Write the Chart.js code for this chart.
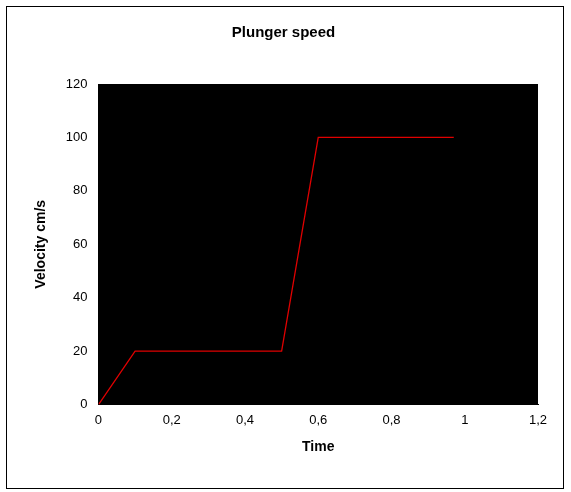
<!DOCTYPE html>
<html>
<head>
<meta charset="utf-8">
<script src="https://cdn.jsdelivr.net/npm/chart.js@4/dist/chart.umd.min.js"></script>
<style>
  html, body { margin: 0; padding: 0; background: #fff; }
  #wrap { width: 571px; height: 492px; }
</style>
</head>
<body>
<div id="wrap"><canvas id="plunger"></canvas></div>
<script>
// data
const timeValues = [0, 0.1, 0.5, 0.6, 0.97];
const speedValues = [0, 20, 20, 100, 100];
const xTicks = [0, 0.2, 0.4, 0.6, 0.8, 1, 1.2];
const yTicks = [0, 20, 40, 60, 80, 100, 120];

const points = timeValues.map((t, i) => ({ x: t, y: speedValues[i] }));

// black plot area + thin frame round the whole chart
const frame = {
  id: "frame",
  beforeDraw(chart) {
    const c = chart.ctx, a = chart.chartArea;
    c.save();
    c.fillStyle = "#000";
    c.fillRect(a.left, a.top, a.right - a.left, a.bottom - a.top);
    c.strokeStyle = "#000";
    c.lineWidth = 1;
    c.strokeRect(6.5, 6.5, 557, 482);
    c.restore();
  }
};

Chart.defaults.font.family = "'Liberation Sans', Arial, sans-serif";
Chart.defaults.color = "#000";

new Chart(document.getElementById("plunger"), {
  type: "scatter",
  data: {
    datasets: [{
      data: points,
      showLine: true,
      borderColor: "#e00000",
      borderWidth: 1.3,
      pointRadius: 0,
      tension: 0
    }]
  },
  options: {
    responsive: true,
    maintainAspectRatio: false,
    animation: false,
    layout: { padding: { left: 29, right: 33, top: 14, bottom: 32 } },
    plugins: {
      legend: { display: false },
      tooltip: { enabled: false },
      title: {
        display: true,
        text: "Plunger speed",
        font: { size: 15, weight: "bold" },
        padding: { top: 10, bottom: 42 }
      }
    },
    scales: {
      x: {
        type: "linear",
        min: 0, max: 1.2,
        afterBuildTicks: axis => { axis.ticks = xTicks.map(v => ({ value: v })); },
        ticks: {
          font: { size: 13 },
          callback: v => String(Math.round(v * 10) / 10).replace(".", ",")
        },
        grid: { display: false, drawTicks: true, tickLength: 5 },
        border: { color: "#000" },
        title: { display: true, text: "Time", font: { size: 14, weight: "bold" }, padding: { top: 8 } }
      },
      y: {
        min: 0, max: 120,
        afterBuildTicks: axis => { axis.ticks = yTicks.map(v => ({ value: v })); },
        ticks: { font: { size: 13 }, padding: 6 },
        grid: { display: false, tickLength: 5 },
        border: { color: "#000" },
        title: { display: true, text: "Velocity cm/s", font: { size: 14, weight: "bold" }, padding: { bottom: 10 } }
      }
    }
  },
  plugins: [frame]
});
</script>
</body>
</html>
